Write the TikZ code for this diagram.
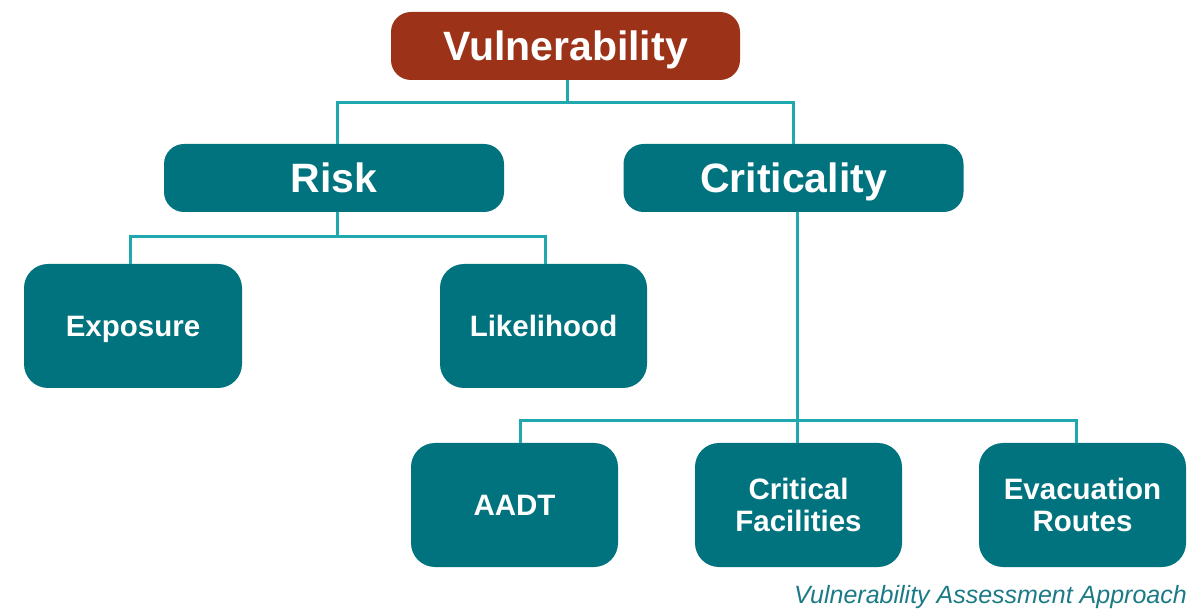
\documentclass[tikz,border=0pt]{standalone}
\usepackage{fontspec}
\setmainfont{Liberation Sans}
\definecolor{boxteal}{HTML}{00737E}
\definecolor{boxred}{HTML}{9C3318}
\definecolor{linkteal}{HTML}{1FA8AD}
\definecolor{captteal}{HTML}{1C7A86}
\tikzset{
  topbox/.style={draw=none, fill=boxteal, rounded corners=20pt, minimum width=340pt, minimum height=68pt, text=white, font=\fontsize{41}{46}\selectfont\bfseries, inner sep=0pt, text height=29.4pt, text depth=0pt},
  redbox/.style={topbox, fill=boxred, minimum width=349pt},
  leafbox/.style={draw=none, fill=boxteal, rounded corners=24pt, minimum width=207pt, minimum height=124pt, text=white, font=\fontsize{29.5}{31.5}\selectfont\bfseries, align=center, inner sep=0pt, text height=21.1pt, text depth=0pt},
  twoline/.style={leafbox, text height=52.6pt, text depth=0pt},
  conn/.style={draw=linkteal, line width=3pt},
}
\begin{document}
\begin{tikzpicture}[x=1pt,y=-1pt]
\useasboundingbox (0,0) rectangle (1189,609);
\node[redbox] (vul) at (565.5,46) {Vulnerability};
\node[topbox] (risk) at (334,178) {Risk};
\node[topbox] (crit) at (793.5,178) {Criticality};
\node[leafbox, minimum width=218pt] (expo) at (133,326) {Exposure};
\node[leafbox] (like) at (543.5,326) {Likelihood};
\node[leafbox] (aadt) at (514.5,505) {AADT};
\node[twoline] (cfac) at (798.5,505) {Critical\\Facilities};
\node[twoline] (evac) at (1082.5,505) {Evacuation\\Routes};
\node[anchor=base east, text=captteal, font=\fontsize{25}{28}\selectfont\itshape, inner sep=0pt] (cap) at (1187,603) {Vulnerability Assessment Approach};
% connectors
\coordinate (b1) at (567,103);
\coordinate (b2) at (337,237);
\coordinate (b3) at (797,421);
\draw[conn] (vul.south -| b1) -- (b1);
\draw[conn] (b1) -| (337,144) coordinate (rt);
\draw[conn] (b1) -| (793,144) coordinate (ct);
\draw[conn] (risk.south -| b2) -- (b2);
\draw[conn] (b2) -| (130,264) coordinate (et);
\draw[conn] (b2) -| (545,264) coordinate (lt);
\draw[conn] (crit.south -| b3) -- (b3);
\draw[conn] (b3) -| (520,443) coordinate (at);
\draw[conn] (b3) -- (b3 |- cfac.north);
\draw[conn] (b3) -| (1076,443) coordinate (vt);
\end{tikzpicture}
\end{document}
